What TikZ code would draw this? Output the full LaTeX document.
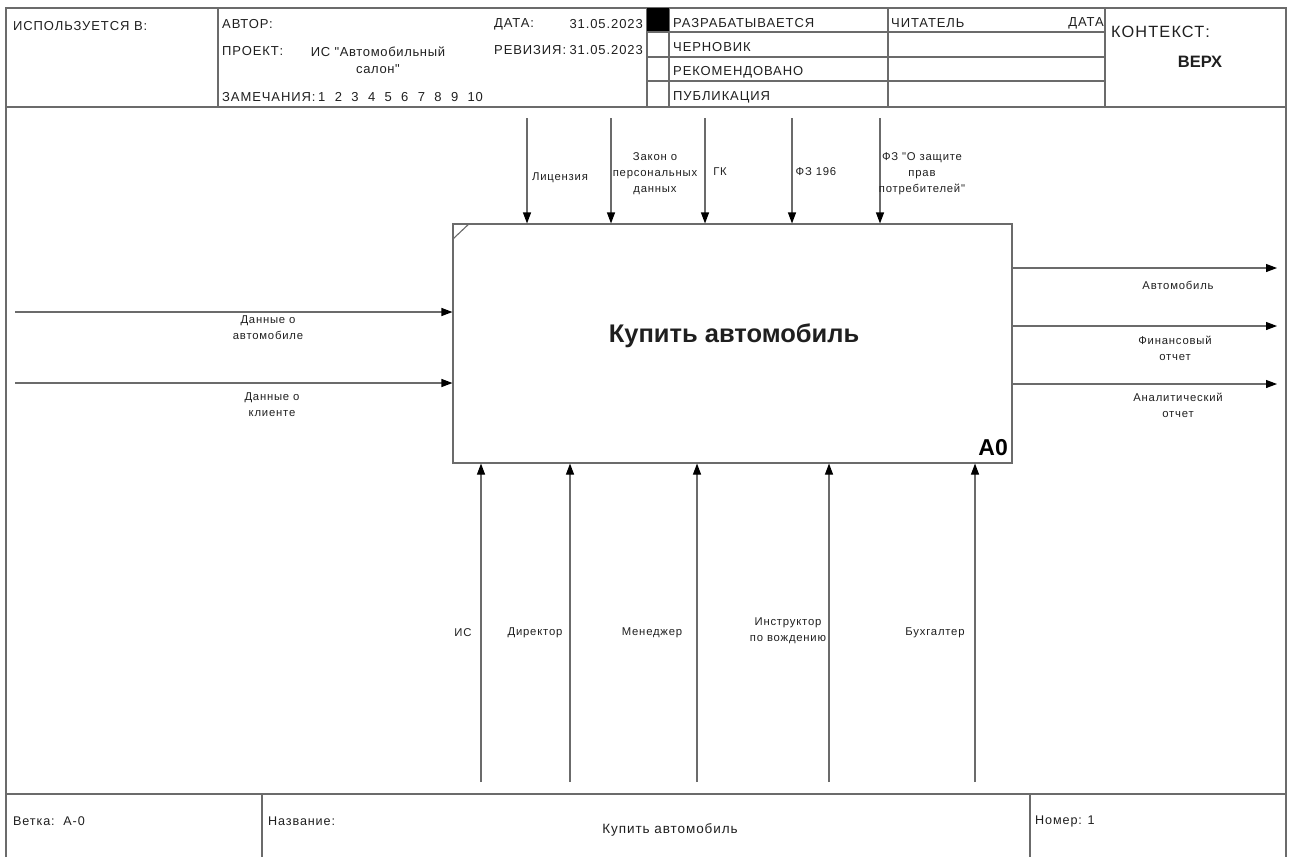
\documentclass[tikz,border=0pt]{standalone}
\usepackage{fontspec}
\setmainfont{Liberation Sans}
\newfontfamily\hdrfont{Liberation Sans}[LetterSpace=7]
\newfontfamily\prjfont{Liberation Sans}[LetterSpace=5]
\newfontfamily\lblfont{Liberation Sans}[LetterSpace=7]
\usetikzlibrary{arrows.meta}
\definecolor{ln}{gray}{0.42}
\definecolor{tx}{gray}{0.12}
\tikzset{
  frame/.style={draw=ln, line width=1.1pt},
  flow/.style={draw=ln, line width=1.1pt, -{Triangle[length=11pt,width=8pt,color=black]}},
  hdr/.style={font=\hdrfont\fontsize{13}{15}\selectfont, inner sep=0pt, text=tx},
  lbl/.style={font=\lblfont\fontsize{11.3}{16}\selectfont, align=center, inner sep=0pt, text=tx},
  ftr/.style={font=\lblfont\fontsize{12.6}{14}\selectfont, inner sep=0pt, text=tx},
}
\begin{document}
\begin{tikzpicture}[x=1pt,y=-1pt]
\useasboundingbox (0,0) rectangle (1292,857);

% ---- outer frame, header and footer grid ----
\draw[frame] (6,857) -- (6,8) -- (1286,8) -- (1286,857);
\draw[frame] (6,107) -- (1286,107);
\foreach \x in {218,647,669,888,1105} \draw[frame] (\x,8) -- (\x,107);
\fill[black] (647,8) rectangle (669,32);
\foreach \y in {32,57,81} \draw[frame] (647,\y) -- (1105,\y);
\draw[frame] (6,794) -- (1286,794);
\foreach \x in {262,1030} \draw[frame] (\x,794) -- (\x,857);

% ---- header texts ----
\node[hdr, anchor=west] (used) at (13,26) {ИСПОЛЬЗУЕТСЯ В:};
\node[hdr, anchor=west] (author) at (222,24) {АВТОР:};
\node[hdr, anchor=west] (project) at (222,51) {ПРОЕКТ:};
\node[hdr, align=center, font=\prjfont\fontsize{13}{17}\selectfont] (projname) at (378,60) {ИС "Автомобильный\\салон"};
\node[hdr, anchor=west] (notes) at (222,97) {ЗАМЕЧАНИЯ:};
\foreach \n [count=\k from 0] in {1,2,3,4,5,6,7,8,9,10}
  \node[hdr, anchor=west] (note\n) at (318+16.6*\k,97) {\n};
\node[hdr, anchor=west] (date) at (494,24) {ДАТА:};
\node[hdr, anchor=east] (dateval) at (643,24) {31.05.2023};
\node[hdr, anchor=west] (rev) at (494,50) {РЕВИЗИЯ:};
\node[hdr, anchor=east] (revval) at (643,50) {31.05.2023};
\node[hdr, anchor=west] (st1) at (673,23) {РАЗРАБАТЫВАЕТСЯ};
\node[hdr, anchor=west] (st2) at (673,47) {ЧЕРНОВИК};
\node[hdr, anchor=west] (st3) at (673,72) {РЕКОМЕНДОВАНО};
\node[hdr, anchor=west] (st4) at (673,97) {ПУБЛИКАЦИЯ};
\node[hdr, anchor=west] (reader) at (891,23) {ЧИТАТЕЛЬ};
\node[hdr, anchor=east] (rdate) at (1104,23) {ДАТА};
\node[hdr, anchor=west, font=\hdrfont\fontsize{16.3}{18}\selectfont] (context) at (1111,32) {КОНТЕКСТ:};
\node[hdr, font=\fontsize{16.5}{18}\selectfont\bfseries] (top) at (1200,62) {ВЕРХ};

% ---- activity box ----
\node[draw=ln, line width=1.1pt, minimum width=559pt, minimum height=239pt, inner sep=0pt] (box) at (732.5,343.5) {};
\draw[draw=ln, line width=1.1pt] ([xshift=17pt]box.north west) -- ([yshift=-16pt]box.north west);
\node[font=\fontsize{25.5}{28}\selectfont\bfseries, text=tx, inner sep=0pt] (title) at (734,336) {Купить автомобиль};
\node[font=\fontsize{23}{26}\selectfont\bfseries, text=black, inner sep=0pt, anchor=east] (num) at (1008,448) {A0};

% ---- controls ----
\foreach \name/\x in {c1/527,c2/611,c3/705,c4/792,c5/880} {
  \coordinate (\name) at (\x,118);
  \draw[flow] (\name) -- (\name |- box.north);
}
\node[lbl] (lc1) at (560,178) {Лицензия};
\node[lbl] (lc2) at (655,174) {Закон о\\персональных\\данных};
\node[lbl] (lc3) at (720,172) {ГК};
\node[lbl] (lc4) at (816,172) {ФЗ 196};
\node[lbl] (lc5) at (922,174) {ФЗ "О защите\\прав\\потребителей"};

% ---- inputs ----
\foreach \name/\y in {i1/312,i2/383} {
  \coordinate (\name) at (15,\y);
  \draw[flow] (\name) -- (\name -| box.west);
}
\node[lbl] (li1) at (268,328) {Данные о\\автомобиле};
\node[lbl] (li2) at (272,405) {Данные о\\клиенте};

% ---- outputs ----
\foreach \name/\y in {o1/268,o2/326,o3/384} {
  \coordinate (\name) at (1277,\y);
  \draw[flow] (\name -| box.east) -- (\name);
}
\node[lbl] (lo1) at (1178,285) {Автомобиль};
\node[lbl] (lo2) at (1175,348) {Финансовый\\отчет};
\node[lbl] (lo3) at (1178,405) {Аналитический\\отчет};

% ---- mechanisms ----
\foreach \name/\x in {m1/481,m2/570,m3/697,m4/829,m5/975} {
  \coordinate (\name) at (\x,782);
  \draw[flow] (\name) -- (\name |- box.south);
}
\node[lbl] (lm1) at (463,633) {ИС};
\node[lbl] (lm2) at (535,633) {Директор};
\node[lbl] (lm3) at (652,633) {Менеджер};
\node[lbl] (lm4) at (788,631) {Инструктор\\по вождению};
\node[lbl] (lm5) at (935,633) {Бухгалтер};

% ---- footer texts ----
\node[ftr, anchor=west] (branch) at (13,821) {Ветка:\ \ A-0};
\node[ftr, anchor=west] (namelbl) at (268,821) {Название:};
\node[ftr, font=\lblfont\fontsize{13.5}{15}\selectfont] (name) at (670,830) {Купить автомобиль};
\node[ftr, anchor=west] (number) at (1035,821) {Номер: 1};
\end{tikzpicture}
\end{document}
